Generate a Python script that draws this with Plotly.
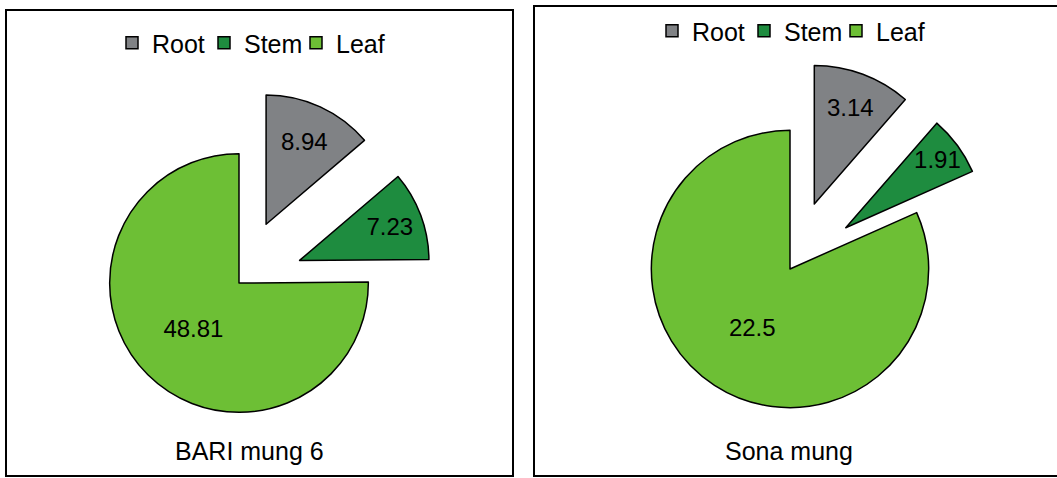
import plotly.graph_objects as go

# ---- data ----
parts = ["Root", "Stem", "Leaf"]
bari_mung_6 = [8.94, 7.23, 48.81]
sona_mung = [3.14, 1.91, 22.5]
varieties = ["BARI mung 6", "Sona mung"]
pulls = [0.5, 0.5, 0.0]

colors = ["#808285", "#1e8c3f", "#6dbf35"]
FONT = "Arial, Liberation Sans, sans-serif"
W, H = 1057, 478


def px_x(x):
    return x / W


def px_y(y):
    return 1 - y / H


fig = go.Figure()

common = dict(
    sort=False,
    direction="clockwise",
    rotation=0,
    pull=pulls,
    marker=dict(colors=colors, line=dict(color="black", width=1.5)),
    texttemplate="%{value}",
    textposition="inside",
    insidetextorientation="horizontal",
    insidetextfont=dict(family=FONT, size=24, color="black"),
    hoverinfo="skip",
)

fig.add_trace(go.Pie(
    labels=parts, values=bari_mung_6, name=varieties[0],
    legend="legend", legendgroup="bari",
    domain=dict(x=[px_x(45), px_x(433)], y=[px_y(477), px_y(89)]),
    **common,
))
fig.add_trace(go.Pie(
    labels=parts, values=sona_mung, name=varieties[1],
    legend="legend2", legendgroup="sona",
    domain=dict(x=[px_x(582), px_x(998)], y=[px_y(477), px_y(61)]),
    **common,
))

legend_common = dict(
    orientation="h",
    xanchor="center",
    yanchor="middle",
    traceorder="normal",
    tracegroupgap=0,
    font=dict(family=FONT, size=25, color="black"),
    bgcolor="rgba(0,0,0,0)",
    itemclick=False,
    entrywidth=47,
    entrywidthmode="pixels",
)

fig.update_layout(
    width=W,
    height=H,
    margin=dict(l=0, r=0, t=0, b=0, autoexpand=False),
    paper_bgcolor="white",
    plot_bgcolor="white",
    uniformtext=dict(minsize=24, mode="show"),
    legend=dict(x=px_x(250), y=px_y(43), **legend_common),
    legend2=dict(x=px_x(790), y=px_y(31), **legend_common),
    shapes=[
        dict(type="rect", xref="paper", yref="paper",
             x0=px_x(6), x1=px_x(513), y0=px_y(476), y1=px_y(10),
             line=dict(color="black", width=2)),
        dict(type="rect", xref="paper", yref="paper",
             x0=px_x(534), x1=px_x(1062), y0=px_y(476), y1=px_y(6),
             line=dict(color="black", width=2)),
    ],
    annotations=[
        dict(text=varieties[0], x=px_x(249), y=px_y(451), xref="paper", yref="paper",
             showarrow=False, xanchor="center", yanchor="middle",
             font=dict(family=FONT, size=25, color="black")),
        dict(text=varieties[1], x=px_x(789), y=px_y(451), xref="paper", yref="paper",
             showarrow=False, xanchor="center", yanchor="middle",
             font=dict(family=FONT, size=25, color="black")),
    ],
)

fig.write_html("out.html")
